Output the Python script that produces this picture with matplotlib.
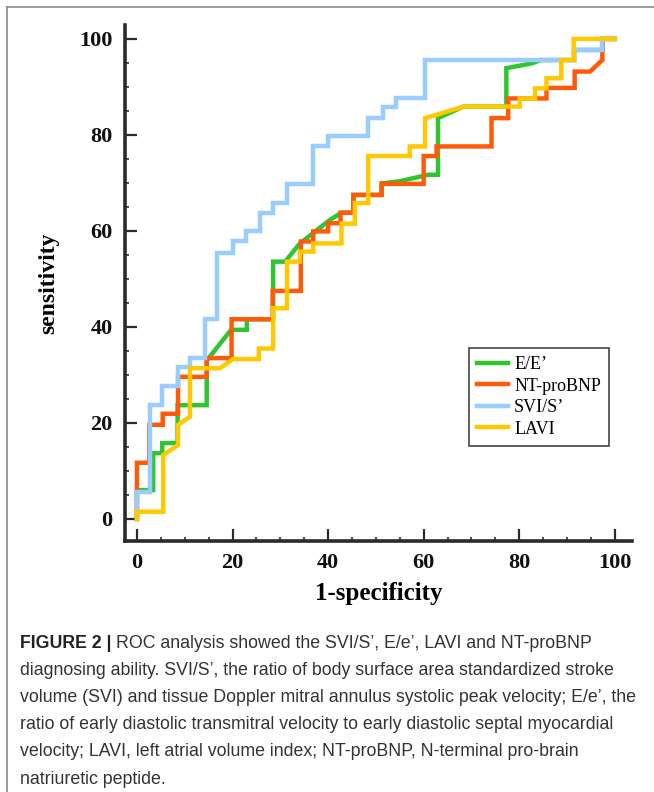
import matplotlib
matplotlib.use("Agg")
import matplotlib.pyplot as plt
from matplotlib.lines import Line2D
from matplotlib.ticker import MultipleLocator
from matplotlib import font_manager

# ROC curves (1-specificity %, sensitivity %)
ee_x = [0, 0, 3.4, 3.4, 5.3, 5.3, 8.5, 8.5, 14.6, 14.6, 19.7, 23, 23, 28.5, 28.5, 31, 34.1, 40.4, 42.8,
        45.3, 45.3, 51.2, 51.2, 54.7, 61, 63, 63, 68.3, 77.3, 77.3, 82.6, 84.5, 91.5, 91.5, 97.4, 97.4, 100]
ee_y = [0, 6, 6, 13.7, 13.7, 15.8, 15.8, 23.7, 23.7, 33, 39.4, 39.4, 41.6, 41.6, 53.6, 53.6, 57.4, 62.3, 63.8,
        63.8, 67.5, 67.5, 69.9, 70.3, 71.7, 71.7, 83.5, 85.9, 85.9, 93.9, 94.9, 95.6, 95.6, 97.7, 97.7, 100, 100]

nt_x = [0, 0, 2.6, 2.6, 5.4, 5.4, 8.6, 8.6, 14.6, 14.6, 19.8, 19.8, 28.4, 28.4, 34.3, 34.3, 36.9, 36.9, 40,
        40, 42.6, 42.6, 45.3, 45.3, 51.2, 51.2, 60, 60, 62.7, 62.7, 74.2, 74.2, 77.7, 77.7, 85.7, 85.7,
        91.6, 91.6, 94.8, 97.4, 97.4, 100]
nt_y = [0, 11.7, 11.7, 19.6, 19.6, 21.9, 21.9, 29.6, 29.6, 33.5, 33.5, 41.6, 41.6, 47.5, 47.5, 57.8, 57.8, 59.9, 59.9,
        61.6, 61.6, 63.8, 63.8, 67.5, 67.5, 69.8, 69.8, 75.6, 75.6, 77.6, 77.6, 83.5, 83.5, 87.6, 87.6, 89.8,
        89.8, 93.2, 93.2, 95.6, 100, 100]

svi_x = [0, 0, 2.7, 2.7, 5.2, 5.2, 8.6, 8.6, 11.1, 11.1, 14.2, 14.2, 16.7, 16.7, 20.1, 20.1, 22.9, 22.9, 25.7,
         25.7, 28.5, 28.5, 31.3, 31.3, 36.9, 36.9, 40, 40, 48.4, 48.4, 51.5, 51.5, 54.3, 54.3, 60.3, 60.3,
         91.5, 91.5, 97.4, 97.4, 100]
svi_y = [0, 5.7, 5.7, 23.7, 23.7, 27.6, 27.6, 31.7, 31.7, 33.5, 33.5, 41.6, 41.6, 55.4, 55.4, 57.8, 57.8, 60, 60,
         63.7, 63.7, 65.9, 65.9, 69.7, 69.7, 77.6, 77.6, 79.8, 79.8, 83.6, 83.6, 85.8, 85.8, 87.6, 87.6, 95.6,
         95.6, 97.7, 97.7, 100, 100]

lavi_x = [0, 0, 5.5, 5.5, 8.6, 8.6, 11.1, 11.1, 17.4, 20.1, 25.5, 25.5, 28.5, 28.5, 31.4, 31.4, 34.1, 34.1,
          36.9, 36.9, 42.8, 42.8, 45.6, 45.6, 48.4, 48.4, 57.1, 57.1, 60.3, 60.3, 62.7, 68.3, 80.1, 80.1,
          83.3, 83.3, 85.7, 85.7, 88.8, 88.8, 91.4, 91.4, 100]
lavi_y = [0, 1.5, 1.5, 13.3, 15.4, 19.6, 21.3, 31.4, 31.4, 33.3, 33.3, 35.5, 35.5, 43.9, 43.9, 53.6, 53.6, 55.7,
          55.7, 57.4, 57.4, 61.5, 61.5, 65.8, 65.8, 75.6, 75.6, 77.6, 77.6, 83.5, 84.2, 85.9, 85.9, 87.6,
          87.6, 89.7, 89.7, 91.8, 91.8, 95.6, 95.6, 100, 100]

names = ["E/E’", "NT-proBNP", "SVI/S’", "LAVI"]
colors = ["#2ec62e", "#ff5a0a", "#99ccff", "#ffc800"]

caption_lines = [
    "ROC analysis showed the SVI/S’, E/e’, LAVI and NT-proBNP",
    "diagnosing ability. SVI/S’, the ratio of body surface area standardized stroke",
    "volume (SVI) and tissue Doppler mitral annulus systolic peak velocity; E/e’, the",
    "ratio of early diastolic transmitral velocity to early diastolic septal myocardial",
    "velocity; LAVI, left atrial volume index; NT-proBNP, N-terminal pro-brain",
    "natriuretic peptide.",
]

W, H = 654, 792
fig = plt.figure(figsize=(W / 100, H / 100), dpi=100)
fig.patch.set_facecolor("white")

# frame around figure (only top and left edges are visible in the crop)
fig.add_artist(Line2D([7 / W, 7 / W], [0, 1 - 7 / H], color="#8a8a8a", lw=1.2))
fig.add_artist(Line2D([7 / W, 1], [1 - 7 / H, 1 - 7 / H], color="#8a8a8a", lw=1.2))

ax = fig.add_axes([125 / W, 1 - 541 / H, (632 - 125) / W, (541 - 25) / H])
serif = "Liberation Serif"

for xs, ys, name, c in zip([ee_x, nt_x, svi_x, lavi_x], [ee_y, nt_y, svi_y, lavi_y], names, colors):
    ax.plot(xs, ys, color=c, lw=3.2, label=name, solid_joinstyle="miter")

ax.set_xlim(-2.5, 103.6)
ax.set_ylim(-4.6, 102.9)
for s in ["top", "right"]:
    ax.spines[s].set_visible(False)
for s in ["left", "bottom"]:
    ax.spines[s].set_linewidth(2.6)
    ax.spines[s].set_color("#2b2b2b")

ax.set_xticks(range(0, 101, 20))
ax.set_yticks(range(0, 101, 20))
ax.xaxis.set_minor_locator(MultipleLocator(5))
ax.yaxis.set_minor_locator(MultipleLocator(5))
ax.tick_params(which="major", direction="in", length=8.5, width=1.6, color="#2b2b2b", pad=9)
ax.tick_params(which="minor", direction="in", length=3.2, width=1.2, color="#2b2b2b")
for lab in ax.get_xticklabels() + ax.get_yticklabels():
    lab.set_fontfamily(serif)
    lab.set_fontweight("bold")
    lab.set_fontsize(16)
    lab.set_color("#111111")

ax.set_xlabel("1-specificity", fontfamily=serif, fontweight="bold", fontsize=18, labelpad=6)
ax.set_ylabel("sensitivity", fontfamily=serif, fontweight="bold", fontsize=17, labelpad=14)

leg = ax.legend(loc="upper left", bbox_to_anchor=(469 / W, 1 - 348 / H), bbox_transform=fig.transFigure,
                prop={"family": serif, "size": 13}, frameon=True, fancybox=False, framealpha=1,
                handlelength=1.7, handletextpad=0.35, labelspacing=0.25, borderpad=0.45, borderaxespad=0)
leg.get_frame().set_edgecolor("#444444")
leg.get_frame().set_linewidth(1.2)
for h in leg.get_lines():
    h.set_linewidth(3.2)

# caption
available = {f.name for f in font_manager.fontManager.ttflist}
if "Liberation Sans Narrow" in available:
    cap_font, cap_size = "Liberation Sans Narrow", 15.5
else:
    cap_font, cap_size = "Liberation Sans", 12.8

renderer = fig.canvas.get_renderer()
y0 = 643
for i, line in enumerate(caption_lines):
    y = 1 - (y0 + i * 27.2) / H
    x = 20 / W
    if i == 0:
        t = fig.text(x, y, "FIGURE 2 |", fontfamily=cap_font, fontweight="bold", fontsize=cap_size,
                     va="center", ha="left", color="#222222")
        bb = t.get_window_extent(renderer)
        x = (bb.x1 + 4) / W
    fig.text(x, y, line, fontfamily=cap_font, fontsize=cap_size, va="center", ha="left", color="#333333")

fig.savefig("out.png", dpi=100)
